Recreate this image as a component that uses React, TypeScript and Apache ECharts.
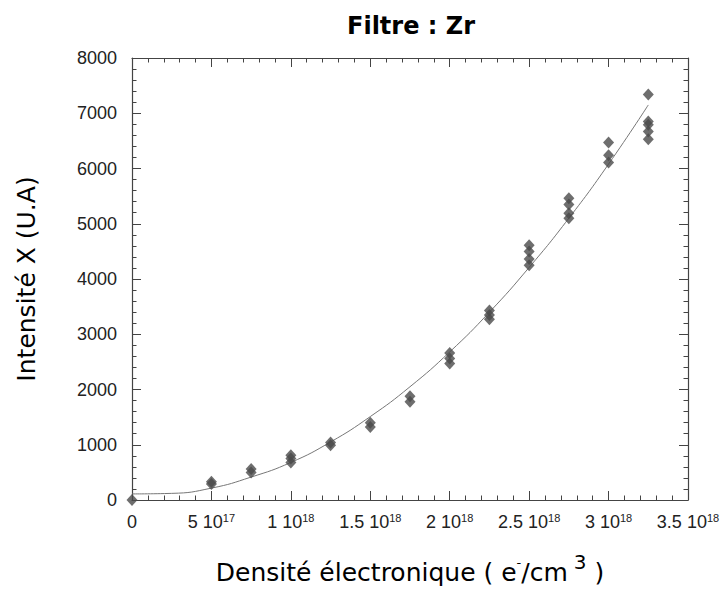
import React, { useEffect, useRef } from "react";
import * as echarts from "echarts";

// ---- data ----
const densities = [0, 5e17, 7.5e17, 1e18, 1.25e18, 1.5e18, 1.75e18, 2e18, 2.25e18, 2.5e18, 2.75e18, 3e18, 3.25e18];
const intensities = [
  [0],
  [290, 330],
  [500, 560],
  [680, 750, 810],
  [990, 1040],
  [1320, 1400],
  [1780, 1880],
  [2470, 2560, 2660],
  [3270, 3350, 3430],
  [4250, 4360, 4500, 4610],
  [5100, 5190, 5350, 5460],
  [6110, 6240, 6470],
  [6530, 6670, 6790, 6850, 7340],
];
const fitX = [0, 2.5e17, 5e17, 7.5e17, 1e18, 1.25e18, 1.5e18, 1.75e18, 2e18, 2.25e18, 2.5e18, 2.75e18, 3e18, 3.25e18];
const fitY = [110, 120, 215, 415, 680, 1050, 1510, 2050, 2680, 3400, 4210, 5100, 6080, 7150];

const xTickMantissa = ["0", "5", "1", "1.5", "2", "2.5", "3", "3.5"];
const xTickExponent = ["", "17", "18", "18", "18", "18", "18", "18"];
const yTickLabels = ["0", "1000", "2000", "3000", "4000", "5000", "6000", "7000", "8000"];

const titleText = "Filtre : Zr";
const yName = "Intensité X (U.A)";

const FRAME = "#444";
const LABEL_FONT = "Liberation Sans, Arial, sans-serif";
const NAME_FONT = "DejaVu Sans, sans-serif";

export default function App() {
  const ref = useRef<HTMLDivElement>(null);

  useEffect(() => {
    if (!ref.current) return;
    const chart = echarts.init(ref.current, null, { renderer: "svg" });

    const scatterData: number[][] = [];
    densities.forEach((d, i) => intensities[i].forEach((v) => scatterData.push([d, v])));
    const fitData = fitX.map((x, i) => [x, fitY[i]]);

    const tick = { show: true, inside: true, length: 9, lineStyle: { color: FRAME, width: 1 } };
    const minor = { show: true, splitNumber: 5, length: 4.5, lineStyle: { color: FRAME, width: 1 } };
    const axisLine = { show: true, onZero: false, lineStyle: { color: FRAME, width: 1.2 } };

    const xBase = {
      type: "value" as const,
      min: 0,
      max: 3.5e18,
      interval: 5e17,
      axisLine,
      axisTick: tick,
      minorTick: minor,
      splitLine: { show: false },
      minorSplitLine: { show: false },
    };
    const yBase = {
      type: "value" as const,
      min: 0,
      max: 8000,
      interval: 1000,
      axisLine,
      axisTick: tick,
      minorTick: minor,
      splitLine: { show: false },
      minorSplitLine: { show: false },
    };

    chart.setOption({
      animation: false,
      backgroundColor: "#fff",
      title: {
        text: titleText,
        left: 406,
        top: 9,
        textAlign: "center",
        textStyle: { fontFamily: NAME_FONT, fontWeight: "bold", fontSize: 24, color: "#000" },
      },
      grid: { left: 132, top: 58, width: 556, height: 442, containLabel: false, outerBoundsMode: "none" },
      xAxis: [
        {
          ...xBase,
          position: "bottom",
          name: "Densité électronique ( e{s|-}/cm{t|3} )",
          nameLocation: "middle",
          nameGap: 52,
          nameTextStyle: {
            fontFamily: NAME_FONT,
            fontSize: 25,
            lineHeight: 40,
            color: "#000",
            rich: {
              s: { fontFamily: NAME_FONT, fontSize: 13, lineHeight: 13, verticalAlign: "top", padding: [4, 0, 0, 0], color: "#000" },
              t: { fontFamily: NAME_FONT, fontSize: 20, lineHeight: 20, verticalAlign: "top", padding: [0, 0, 0, 6], color: "#000" },
            },
          },
          axisLabel: {
            margin: 12,
            color: "#222",
            fontFamily: LABEL_FONT,
            fontSize: 18,
            formatter: (_v: number, idx: number) =>
              xTickExponent[idx] ? `{a|${xTickMantissa[idx]} 10}{s|${xTickExponent[idx]}}` : `{a|${xTickMantissa[idx]}}`,
            rich: {
              a: { fontFamily: LABEL_FONT, fontSize: 18, color: "#222", lineHeight: 20 },
              s: { fontFamily: LABEL_FONT, fontSize: 11, color: "#222", verticalAlign: "top", lineHeight: 12 },
            },
          },
        },
        { ...xBase, position: "top", axisLabel: { show: false } },
      ],
      yAxis: [
        {
          ...yBase,
          position: "left",
          name: yName,
          nameLocation: "middle",
          nameGap: 93,
          nameTextStyle: { fontFamily: NAME_FONT, fontSize: 25, color: "#000" },
          axisLabel: {
            margin: 15,
            color: "#222",
            fontFamily: LABEL_FONT,
            fontSize: 18,
            formatter: (_v: number, idx: number) => yTickLabels[idx],
          },
        },
        { ...yBase, position: "right", axisLabel: { show: false } },
      ],
      series: [
        {
          type: "line",
          data: fitData,
          smooth: true,
          showSymbol: false,
          lineStyle: { color: "#777", width: 1 },
          z: 1,
        },
        {
          type: "scatter",
          data: scatterData,
          symbol: "diamond",
          symbolSize: [11, 12],
          itemStyle: { color: "#4a4a4a" },
          z: 2,
        },
      ],
    });

    return () => chart.dispose();
  }, []);

  return (
    <div
      ref={ref}
      style={{ position: "fixed", left: 0, top: 0, width: 721, height: 589, background: "#fff" }}
    />
  );
}
